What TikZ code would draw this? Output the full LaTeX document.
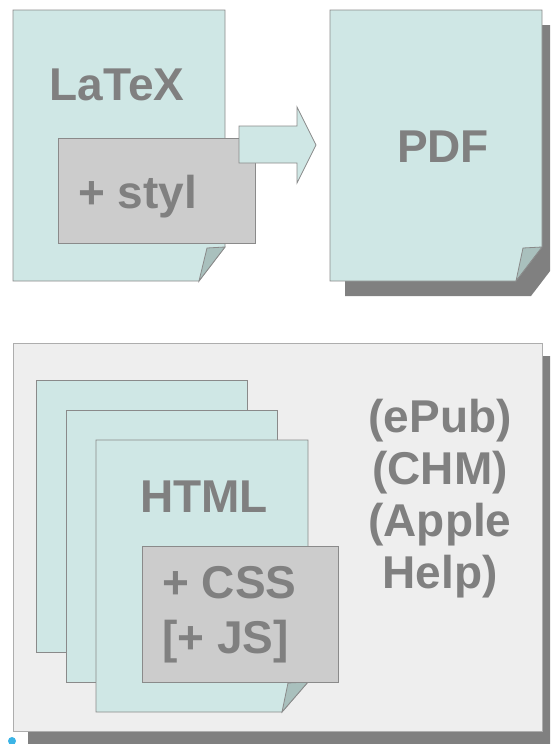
\documentclass[tikz,border=0pt]{standalone}
\usepackage{fontspec}
\setmainfont{Liberation Sans}
\definecolor{pagefill}{HTML}{CFE7E5}
\definecolor{foldfill}{HTML}{A9C0BD}
\definecolor{boxgray}{HTML}{CCCCCC}
\definecolor{panelgray}{HTML}{EEEEEE}
\definecolor{edgegray}{HTML}{8A8A8A}
\definecolor{shadowgray}{HTML}{808080}
\definecolor{textgray}{HTML}{808080}
\definecolor{handle}{HTML}{3CB4E6}
\begin{document}
\begin{tikzpicture}[x=1pt,y=-1pt,
    page/.style={draw=edgegray,fill=pagefill,line width=0.8pt},
    fold/.style={draw=edgegray,fill=foldfill,line width=0.8pt},
    extra/.style={draw=edgegray,fill=boxgray,line width=0.8pt},
    panel/.style={draw=edgegray!70,fill=panelgray,line width=0.8pt},
    shadow/.style={fill=shadowgray},
    label/.style={text=textgray,inner sep=0pt,anchor=base,
      font=\bfseries\fontsize{46}{52}\selectfont}]
  \clip (0,0) rectangle (550,744);
  % top: LaTeX -> PDF
  \fill[shadow] (345,25) -- (557,25) -- (557,262) -- (531,296) -- (345,296) -- cycle;
  \draw[page] (330,10) -- (542,10) -- (542,247) -- (516,281) -- (330,281) -- cycle;
  \draw[fold] (523,248) -- (542,247) -- (516,281) -- cycle;
  \draw[page] (13,10) -- (225,10) -- (225,247) -- (199,281) -- (13,281) -- cycle;
  \draw[fold] (207,248) -- (225,247) -- (199,281) -- cycle;
  \draw[extra] (58,138) rectangle (255,243);
  \draw[page] (239,126) -- (297,126) -- (297,107) -- (316,145)
    -- (297,183) -- (297,163) -- (239,163) -- cycle;
  \node[label] (latex) at (117,100) {LaTeX};
  \node[label,anchor=base west] (styl) at (78,208) {+ styl};
  \node[label] (pdf) at (443,162) {PDF};
  % bottom: HTML and friends
  \fill[shadow] (28,356) rectangle (557,744);
  \draw[panel] (13,343) rectangle (542,731);
  \foreach \dx in {0,30} {
    \draw[page] (36+\dx,380+\dx) rectangle (247+\dx,652+\dx);
  }
  \draw[page] (96,440) -- (308,440) -- (308,682) -- (282,712) -- (96,712) -- cycle;
  \draw[fold] (288,683) -- (308,682) -- (282,712) -- cycle;
  \draw[extra] (142,546) rectangle (338,682);
  \node[label] (html) at (204,512) {HTML};
  \node[label,anchor=base west,align=left,
    font=\bfseries\fontsize{46}{55}\selectfont] (css) at (162,653) {+ CSS\\{}[+ JS]};
  \node[label,align=center,font=\bfseries\fontsize{46}{51.7}\selectfont]
    (formats) at (440,588) {(ePub)\\(CHM)\\(Apple\\Help)};
  \fill[handle] (12,741) circle (4);
\end{tikzpicture}
\end{document}
